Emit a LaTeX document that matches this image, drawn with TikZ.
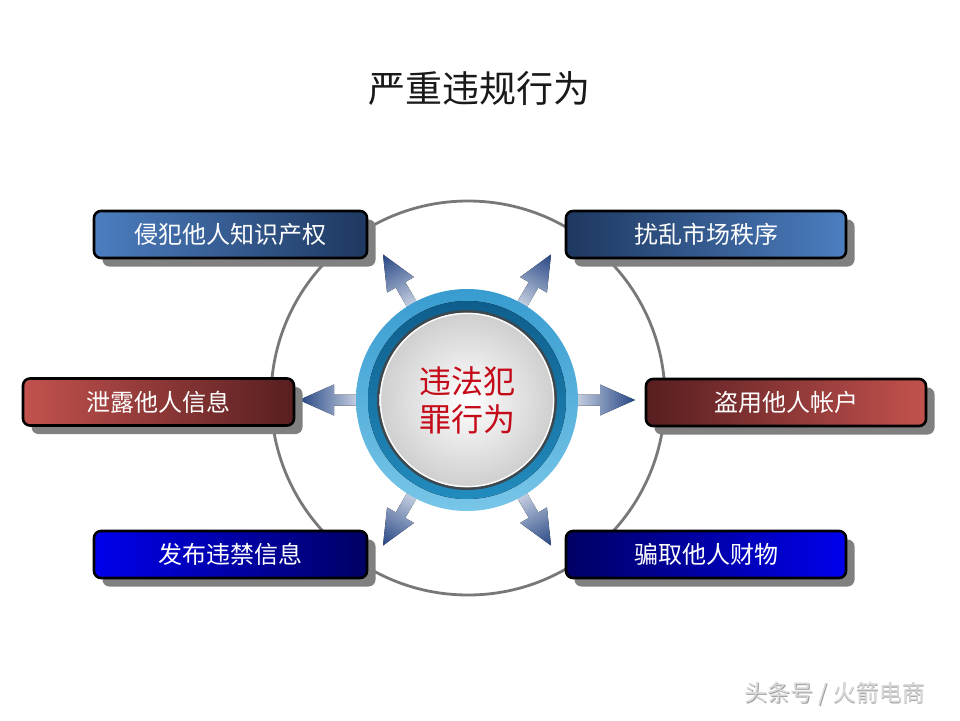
\documentclass[tikz,border=0pt]{standalone}
\usepackage{fontspec}
\newfontfamily\cjk{Noto Sans CJK SC}
\usetikzlibrary{shadows}
\definecolor{ringgray}{RGB}{120,120,120}
\definecolor{shadowgray}{RGB}{128,128,128}
\definecolor{bluelight}{RGB}{76,126,192}
\definecolor{bluedark}{RGB}{30,56,96}
\definecolor{redlight}{RGB}{194,82,78}
\definecolor{reddark}{RGB}{88,30,32}
\definecolor{deeplight}{RGB}{0,0,236}
\definecolor{deepdark}{RGB}{0,0,100}
\definecolor{arrowlight}{RGB}{224,230,240}
\definecolor{arrowmid}{RGB}{92,122,178}
\definecolor{arrowdark}{RGB}{38,70,132}
\definecolor{outerringtop}{RGB}{56,156,208}
\definecolor{outerringbot}{RGB}{120,198,232}
\definecolor{tealtop}{RGB}{14,94,140}
\definecolor{tealbot}{RGB}{34,140,190}
\definecolor{coreedge}{RGB}{60,72,80}
\definecolor{corered}{RGB}{196,10,24}
\begin{document}
\begin{tikzpicture}[x=1pt,y=-1pt,
  boxstyle/.style={rounded corners=7pt, draw=black, line width=2.6pt,
    minimum height=47pt, inner sep=0pt, text=white,
    font=\cjk\fontsize{24}{27}\selectfont,
    general shadow={fill=shadowgray, shadow xshift=8.5pt, shadow yshift=-8.5pt}},
  arrowshape/.style={left color=arrowlight, middle color=arrowmid, right color=arrowdark}]
\useasboundingbox (0,0) rectangle (960,720);
\fill[white] (0,0) rectangle (960,720);

% title
\node[font=\cjk\fontsize{37}{40}\selectfont, text=black!90] (title) at (479,88) {严重违规行为};

% big gray ring
\coordinate (c) at (467,400);
\draw[ringgray, line width=2.8pt] (468,398) circle[radius=197];

% arrows
\foreach \a in {0,60,120,180,240,300}{
  \begin{scope}[transform canvas={shift={(c)}, rotate=\a}]
    \fill[arrowshape] (100,-5.5) -- (133,-5.5) -- (133,-15.5) -- (168,0)
      -- (133,15.5) -- (133,5.5) -- (100,5.5) -- cycle;
  \end{scope}
}

% central button
\node[circle, minimum size=222pt, inner sep=0pt, top color=outerringtop, bottom color=outerringbot] (core) at (c) {};
\fill[top color=tealtop, bottom color=tealbot] (core.center) circle[radius=99];
\fill[coreedge] (core.center) circle[radius=90];
\fill[inner color=white, outer color=gray!38] (core.center) circle[radius=87.5];
\draw[white, line width=1.2pt] (core.center) circle[radius=86.5];
\node[align=center, text=corered, font=\cjk\fontsize{32}{38}\selectfont] (coretext) at (c) {违法犯\\罪行为};

% boxes
\node[boxstyle, minimum width=273pt, left color=bluelight, right color=bluedark] (b1) at (230.5,234.5) {侵犯他人知识产权};
\node[boxstyle, minimum width=280pt, left color=bluedark, right color=bluelight] (b2) at (706,234.5) {扰乱市场秩序};
\node[boxstyle, minimum width=271pt, left color=redlight, right color=reddark] (b3) at (158.5,402) {泄露他人信息};
\node[boxstyle, minimum width=280pt, left color=reddark, right color=redlight] (b4) at (786,402.5) {盗用他人帐户};
\node[boxstyle, minimum width=273pt, left color=deeplight, right color=deepdark] (b5) at (230.5,554.5) {发布违禁信息};
\node[boxstyle, minimum width=280pt, left color=deepdark, right color=deeplight] (b6) at (706,554.5) {骗取他人财物};

% watermark
\node[font=\cjk\fontsize{23}{26}\selectfont, text=gray!75] (wmshadow) at (835.8,694.8) {头条号 / 火箭电商};
\node[font=\cjk\fontsize{23}{26}\selectfont, text=gray!30] (wm) at (835,694) {头条号 / 火箭电商};
\end{tikzpicture}
\end{document}
